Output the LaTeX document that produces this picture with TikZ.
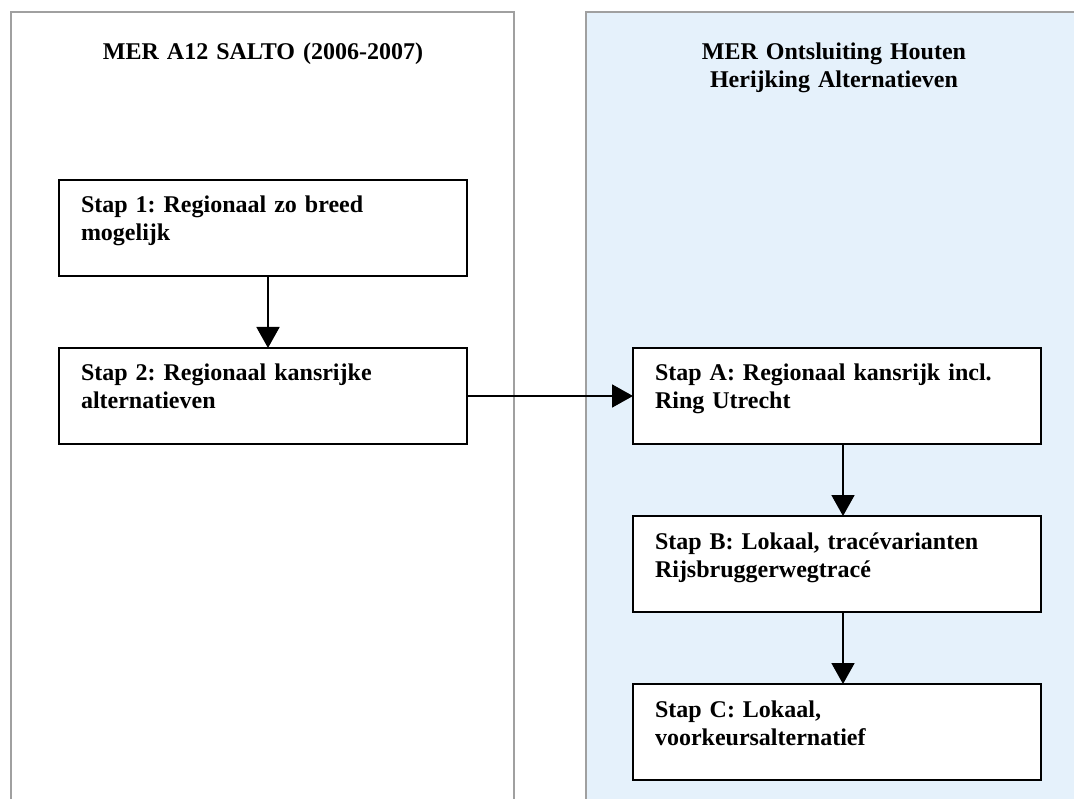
\documentclass[tikz,border=0pt]{standalone}
\usepackage{fontspec}
\setmainfont{Liberation Serif}
\usepackage{xcolor}
\usetikzlibrary{positioning, arrows.meta}
\definecolor{paneblue}{HTML}{E5F1FB}
\definecolor{panegrey}{HTML}{A0A0A0}
\frenchspacing

\begin{document}
\begin{tikzpicture}[x=1pt, y=-1pt,
    stap/.style={draw, line width=1.8pt, fill=white, anchor=north west, text width=364pt, align=left,
        inner xsep=22pt, inner ysep=0pt, outer sep=0pt, text height=33pt, text depth=63pt,
        font=\fontsize{24}{28}\selectfont\bfseries},
    titel/.style={text width=440pt, align=center, anchor=base, inner sep=0pt,
        font=\fontsize{24}{28}\selectfont\bfseries},
    pijl/.style={line width=1.8pt, -{Triangle[length=21pt, width=23pt]}}]
    \useasboundingbox (0,0) rectangle (1074,799);
    % panels
    \fill[paneblue] (586,12) rectangle (1074,799);
    \draw[panegrey, line width=2pt] (11,799) -- (11,12) -- (514,12) -- (514,799);
    \draw[panegrey, line width=2pt] (586,799) -- (586,12) -- (1074,12);
    \node[titel] (salto) at (263,60) {MER A12 SALTO (2006-2007)};
    \node[titel] (houten) at (834,60) {MER Ontsluiting Houten\\Herijking Alternatieven};
    % steps
    \node[stap] (s1) at (59,180) {Stap 1: Regionaal zo breed\\mogelijk};
    \node[stap, below=72pt of s1] (s2) {Stap 2: Regionaal kansrijke\\alternatieven};
    \node[stap, right=166pt of s2] (sa) {Stap A: Regionaal kansrijk incl.\\Ring Utrecht};
    \node[stap, below=72pt of sa] (sb) {Stap B: Lokaal, tracévarianten\\Rijsbruggerwegtracé};
    \node[stap, below=72pt of sb] (sc) {Stap C: Lokaal,\\voorkeursalternatief};
    \draw[pijl] ([xshift=5pt]s1.south) -- ([xshift=5pt]s2.north);
    \draw[pijl] (s2) -- (sa);
    \draw[pijl] ([xshift=6pt]sa.south) -- ([xshift=6pt]sb.north);
    \draw[pijl] ([xshift=6pt]sb.south) -- ([xshift=6pt]sc.north);
\end{tikzpicture}
\end{document}
